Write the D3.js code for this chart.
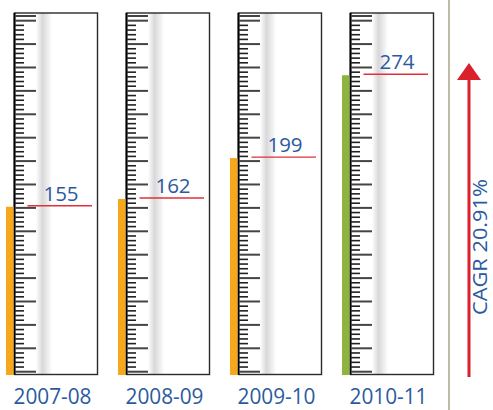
<!DOCTYPE html>
<html>
<head>
<meta charset="utf-8">
<script src="https://cdn.jsdelivr.net/npm/d3@7/dist/d3.min.js"></script>
<style>
  body { margin: 0; background: #fff; }
  text { font-family: "Open Sans", sans-serif; }
</style>
</head>
<body>
<script>
// chart data
const years = ["2007-08", "2008-09", "2009-10", "2010-11"]
const values = [155, 162, 199, 274]
const barColors = ["#f6a81a", "#f6a81a", "#f6a81a", "#8cb43f"]
const cagrLabel = "CAGR 20.91%"
const rulerSteps = 76

const width = 493, height = 410
const boxW = 83, boxTop = 13, boxBottom = 374.5

//The SVG Container
const svg = d3.select("body").append("svg")
    .attr("width", width)
    .attr("height", height);

const defs = svg.append("defs")
const grad = defs.append("linearGradient")
    .attr("id", "shade")
    .attr("x1", "0%").attr("x2", "100%")
grad.append("stop").attr("offset", "0%").attr("stop-color", "#ffffff")
grad.append("stop").attr("offset", "40%").attr("stop-color", "#d8d8d8")
grad.append("stop").attr("offset", "60%").attr("stop-color", "#e4e4e4")
grad.append("stop").attr("offset", "100%").attr("stop-color", "#ffffff")

// gauge positions and scales
const x = d3.scalePoint().domain(years).range([14, 350])
const y = d3.scaleLinear().domain([0, 300]).range([378, 46.5])
const ruler = d3.scaleLinear().domain([0, rulerSteps]).range([371.7, 16])

const gauge = svg.selectAll("g.gauge")
    .data(years)
    .join("g")
    .attr("class", "gauge")
    .attr("transform", d => `translate(${x(d)},0)`)

// shading column
gauge.append("rect")
    .attr("x", 22).attr("y", boxTop)
    .attr("width", 16).attr("height", boxBottom - boxTop)
    .attr("fill", "url(#shade)")

// box
gauge.append("rect")
    .attr("x", 0.5).attr("y", boxTop)
    .attr("width", boxW).attr("height", boxBottom - boxTop)
    .attr("fill", "none")
    .attr("stroke", "#2a2a2a")
    .attr("stroke-width", 1.4)
gauge.append("line")
    .attr("x1", 0.5).attr("x2", 0.5)
    .attr("y1", boxTop).attr("y2", boxBottom)
    .attr("stroke", "#000")
    .attr("stroke-width", 2)

// ruler ticks
gauge.selectAll("line.tick")
    .data(d3.range(rulerSteps + 1))
    .join("line")
    .attr("class", "tick")
    .attr("x1", 1)
    .attr("x2", i => (i % 5 === 0 || i === rulerSteps) ? 22 : 10)
    .attr("y1", i => ruler(i))
    .attr("y2", i => ruler(i))
    .attr("stroke", i => (i % 5 === 0 || i === rulerSteps) ? "#444" : "#222")
    .attr("stroke-width", i => (i % 5 === 0 || i === rulerSteps) ? 2 : 1.6)

// bars
gauge.append("rect")
    .attr("x", -8)
    .attr("width", 7.5)
    .attr("y", (d, i) => y(values[i]))
    .attr("height", (d, i) => boxBottom + 0.5 - y(values[i]))
    .attr("fill", (d, i) => barColors[i])

// value markers
gauge.append("line")
    .attr("x1", 13.5).attr("x2", 78)
    .attr("y1", (d, i) => y(values[i]) - 1)
    .attr("y2", (d, i) => y(values[i]) - 1)
    .attr("stroke", "#e0303c")
    .attr("stroke-width", 1.3)

gauge.append("text")
    .attr("x", 47)
    .attr("y", (d, i) => y(values[i]) - 6)
    .attr("text-anchor", "middle")
    .attr("font-size", 20.5)
    .attr("fill", "#2b5aa0")
    .text((d, i) => values[i])

// category labels
gauge.append("text")
    .attr("x", 38.5)
    .attr("y", 404)
    .attr("text-anchor", "middle")
    .attr("font-size", 22)
    .attr("textLength", 78)
    .attr("lengthAdjust", "spacingAndGlyphs")
    .attr("fill", "#2b5aa0")
    .text(d => d)

// divider
svg.append("line")
    .attr("x1", 449).attr("x2", 449)
    .attr("y1", 0).attr("y2", height)
    .attr("stroke", "#a8a48a")
    .attr("stroke-width", 1.5)

// CAGR arrow
svg.append("line")
    .attr("x1", 469).attr("x2", 469)
    .attr("y1", 377).attr("y2", 78)
    .attr("stroke", "#d9202b")
    .attr("stroke-width", 3)
svg.append("path")
    .attr("d", d3.line()([[457, 80], [469, 63], [481, 80]]) + "Z")
    .attr("fill", "#d9202b")

svg.append("text")
    .attr("transform", "translate(487,247) rotate(-90)")
    .attr("text-anchor", "middle")
    .attr("font-size", 20.5)
    .attr("textLength", 136)
    .attr("lengthAdjust", "spacingAndGlyphs")
    .attr("fill", "#2b5aa0")
    .text(cagrLabel)
</script>
</body>
</html>
